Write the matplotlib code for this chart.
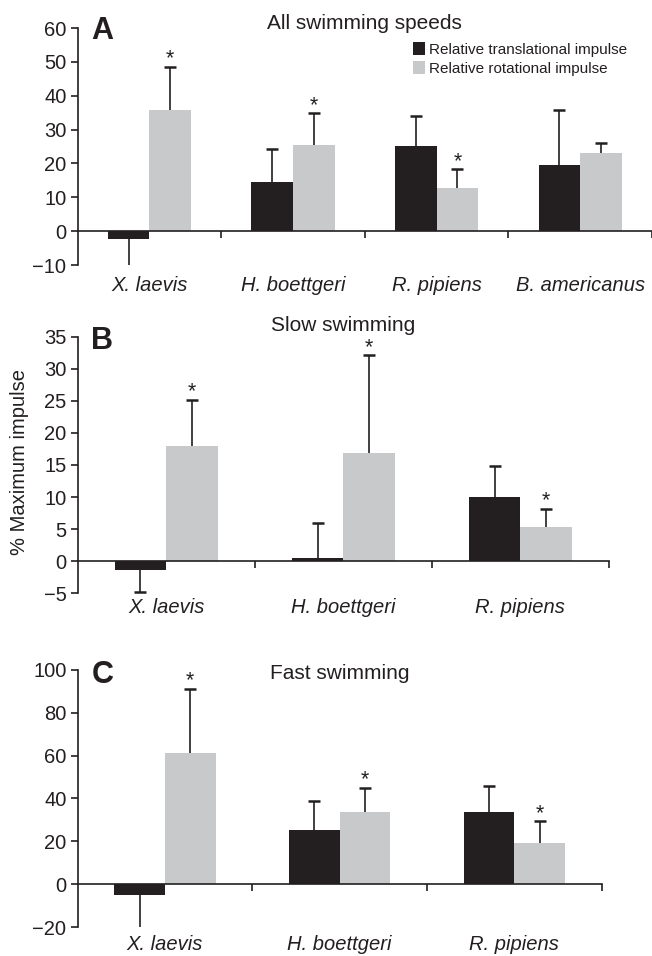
import matplotlib.pyplot as plt
import matplotlib.transforms as mtransforms
import numpy as np

plt.rcParams["font.family"] = ["Liberation Sans", "DejaVu Sans"]

INK = "#231f20"
BLACK = "#231f20"
GREY = "#c8c9cb"

# panel A - all swimming speeds
species_a = ["X. laevis", "H. boettgeri", "R. pipiens", "B. americanus"]
trans_a = [-2.3, 14.4, 25.1, 19.4]
trans_a_err = [9.2, 9.9, 9.0, 16.4]
rot_a = [35.7, 25.4, 12.6, 23.0]
rot_a_err = [12.9, 9.4, 5.7, 2.9]
star_a = [True, True, True, False]

# panel B - slow swimming
species_b = ["X. laevis", "H. boettgeri", "R. pipiens"]
trans_b = [-1.45, 0.5, 10.0]
trans_b_err = [3.45, 5.5, 4.8]
rot_b = [17.9, 16.9, 5.3]
rot_b_err = [7.3, 15.3, 2.9]
star_b = [True, True, True]

# panel C - fast swimming
species_c = ["X. laevis", "H. boettgeri", "R. pipiens"]
trans_c = [-4.9, 25.1, 33.5]
trans_c_err = [17.4, 13.5, 12.5]
rot_c = [61.4, 33.5, 19.1]
rot_c_err = [29.8, 11.6, 10.2]
star_c = [True, True, True]

PANELS = [
    dict(letter="A", title="All swimming speeds", species=species_a,
         trans=trans_a, trans_err=trans_a_err, rot=rot_a, rot_err=rot_a_err,
         stars=star_a, ylim=(-10, 60), yticks=np.arange(-10, 61, 10),
         rect=[0.119, 0.7228, 0.881, 0.2479], label_y=-0.086,
         title_xy=(0.559, 0.975), letter_xy=(0.157, 0.968)),
    dict(letter="B", title="Slow swimming", species=species_b,
         trans=trans_b, trans_err=trans_b_err, rot=rot_b, rot_err=rot_b_err,
         stars=star_b, ylim=(-5, 35), yticks=np.arange(-5, 36, 5),
         rect=[0.119, 0.3797, 0.815, 0.2678], label_y=-0.058,
         title_xy=(0.526, 0.659), letter_xy=(0.157, 0.643)),
    dict(letter="C", title="Fast swimming", species=species_c,
         trans=trans_c, trans_err=trans_c_err, rot=rot_c, rot_err=rot_c_err,
         stars=star_c, ylim=(-20, 100), yticks=np.arange(-20, 101, 20),
         rect=[0.119, 0.0303, 0.804, 0.2689], label_y=-0.068,
         title_xy=(0.521, 0.296), letter_xy=(0.157, 0.294)),
]

BAR_W = 0.29


def tick_label(v):
    return f"\u2212{abs(v)}" if v < 0 else str(v)


def draw_err(ax, xs, vals, errs):
    # one-sided error bars: away from zero only
    ends = [v - e if v < 0 else v + e for v, e in zip(vals, errs)]
    ax.vlines(xs, vals, ends, colors=INK, linewidth=1.2, zorder=3)
    ax.plot(xs, ends, linestyle="none", marker="_", markersize=8,
            markeredgewidth=1.8, color=INK, zorder=3)
    return ends


fig = plt.figure(figsize=(6.52, 9.56), dpi=100)

for p in PANELS:
    ax = fig.add_axes(p["rect"])
    n = len(p["species"])
    centers = np.arange(n) + 0.5
    x_t = centers - BAR_W / 2
    x_r = centers + BAR_W / 2

    b1 = ax.bar(x_t, p["trans"], width=BAR_W, color=BLACK, zorder=2,
                label="Relative translational impulse")
    b2 = ax.bar(x_r, p["rot"], width=BAR_W, color=GREY, zorder=2,
                label="Relative rotational impulse")
    draw_err(ax, x_t, p["trans"], p["trans_err"])
    tops = draw_err(ax, x_r, p["rot"], p["rot_err"])

    for x, top, s in zip(x_r, tops, p["stars"]):
        if s:
            ax.annotate("*", (x, top), xytext=(0, -2), textcoords="offset points",
                        ha="center", va="bottom", fontsize=15.5, color=INK)

    ax.set_xlim(0, n)
    ax.set_ylim(*p["ylim"])
    ax.set_yticks(p["yticks"])
    ax.set_yticklabels([tick_label(int(v)) for v in p["yticks"]])
    ax.set_xticks(np.arange(1, n + 1))
    ax.set_xticklabels([])

    for side in ("top", "right"):
        ax.spines[side].set_visible(False)
    ax.spines["bottom"].set_position(("data", 0))
    for side in ("left", "bottom"):
        ax.spines[side].set_linewidth(1.2)
        ax.spines[side].set_color(INK)
    ax.tick_params(axis="both", direction="out", length=5, width=1.2,
                   colors=INK, labelsize=14.5, pad=3)

    tr = mtransforms.blended_transform_factory(ax.transData, ax.transAxes)
    for c, name in zip(centers, p["species"]):
        ax.text(c, p["label_y"], name, transform=tr, ha="center", va="center",
                fontsize=14.5, style="italic", color=INK)

    fig.text(*p["title_xy"], p["title"], ha="center", va="center",
             fontsize=15, color=INK)
    fig.text(*p["letter_xy"], p["letter"], ha="center", va="center",
             fontsize=22, fontweight="bold", color=INK)

    if p["letter"] == "A":
        ax.legend(handles=[b1, b2], loc="upper left", frameon=False,
                  bbox_to_anchor=(0.634, 0.956), bbox_transform=fig.transFigure,
                  fontsize=11, handlelength=0.75, handleheight=0.9,
                  handletextpad=0.3, labelspacing=0.3, borderpad=0,
                  borderaxespad=0, labelcolor=INK)

fig.text(0.030, 0.517, "% Maximum impulse", rotation=90, ha="center",
         va="center", fontsize=14.5, color=INK)

fig.savefig("out.png", dpi=100)
